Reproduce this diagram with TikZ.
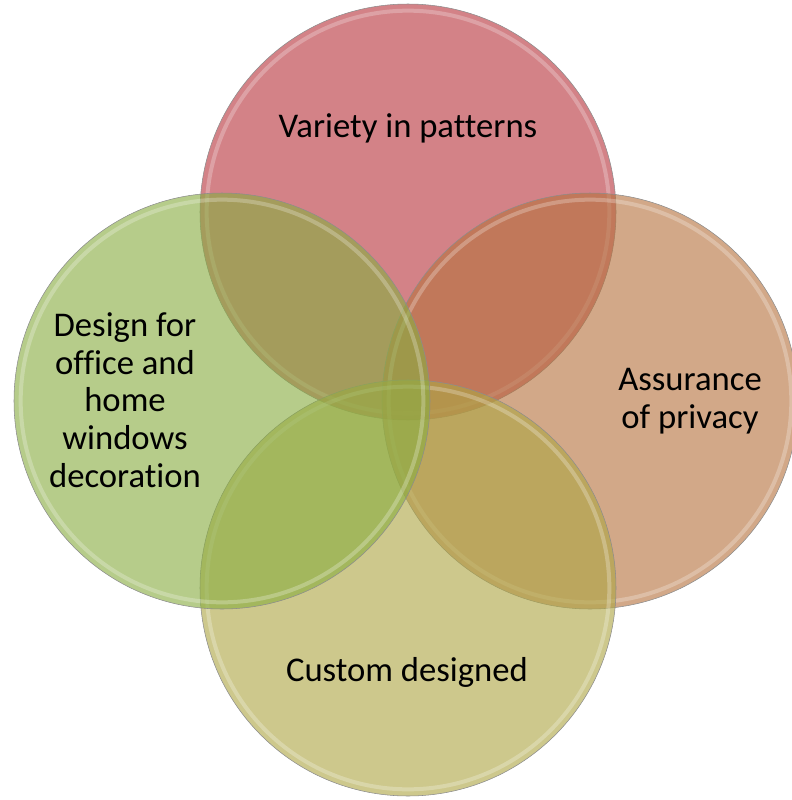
\documentclass[tikz,border=0pt]{standalone}
\usepackage{fontspec}
\setmainfont{Carlito}[Ligatures=NoCommon]
\definecolor{toppink}{RGB}{184,53,61}
\definecolor{righttan}{RGB}{182,115,63}
\definecolor{bottomolive}{RGB}{174,166,69}
\definecolor{leftgreen}{RGB}{137,173,66}
\begin{document}
\begin{tikzpicture}[x=0.75pt, y=-0.75pt,
    blob/.style = {circle, minimum size=312pt, inner sep=0pt, draw=black!45, line width=0.4pt, fill opacity=0.62},
    lbl/.style = {font=\fontsize{26}{28.3}\selectfont, align=center, text=black}]
    \useasboundingbox (0,0) rectangle (792,800);

    % The four circles, each with a light rim
    \foreach \n/\x/\y/\c in {variety/408/212/toppink, privacy/590/401/righttan,
                             custom/408/588/bottomolive, design/222/401/leftgreen} {
        \node[blob, fill=\c] (\n) at (\x,\y) {};
        \draw[white, opacity=0.25, line width=3pt] (\n.center) circle[radius=151pt];
    }

    % Labels
    \node[lbl] (varietytxt) at (408,128) {Variety in patterns};
    \node[lbl] (privacytxt) at (690,401) {Assurance\\of privacy};
    \node[lbl] (customtxt) at (407,672) {Custom designed};
    \node[lbl] (designtxt) at (125,400) {Design for\\office and\\home\\windows\\decoration};

\end{tikzpicture}
\end{document}
